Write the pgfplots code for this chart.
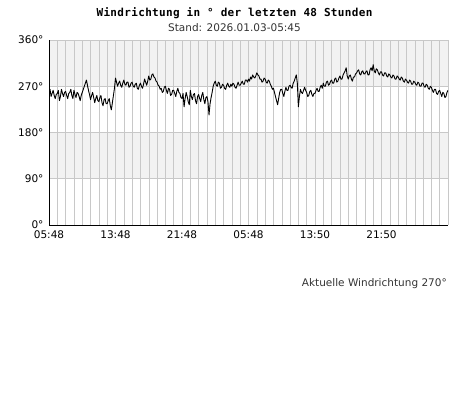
\documentclass[border=0pt]{standalone}
\usepackage{fontspec}
\setmainfont{DejaVu Sans}
\newfontfamily\titlefont[LetterSpace=3]{DejaVu Sans Mono}
\usepackage{pgfplots}
\pgfplotsset{compat=1.18}
\definecolor{band}{HTML}{F2F2F2}
\definecolor{gridc}{HTML}{C8C8C8}
\definecolor{txt}{HTML}{333333}

% wind direction (deg) over the last 48 hours, 8 readings per hour
\pgfplotstableread[row sep=\\]{
h deg\\
0 258\\ 0.125 264\\ 0.25 250\\ 0.375 256\\ 0.5 262\\ 0.625 252\\ 0.75 246\\ 0.875 254\\
1 256\\ 1.125 262\\ 1.25 242\\ 1.375 250\\ 1.5 264\\ 1.625 256\\ 1.75 250\\ 1.875 258\\
2 260\\ 2.125 252\\ 2.25 246\\ 2.375 256\\ 2.5 258\\ 2.625 264\\ 2.75 252\\ 2.875 246\\
3 262\\ 3.125 254\\ 3.25 248\\ 3.375 258\\ 3.5 256\\ 3.625 250\\ 3.75 242\\ 3.875 252\\
4 258\\ 4.125 264\\ 4.25 270\\ 4.375 276\\ 4.5 282\\ 4.625 272\\ 4.75 262\\ 4.875 254\\
5 244\\ 5.125 252\\ 5.25 258\\ 5.375 248\\ 5.5 238\\ 5.625 246\\ 5.75 252\\ 5.875 242\\
6 240\\ 6.125 248\\ 6.25 252\\ 6.375 238\\ 6.5 232\\ 6.625 244\\ 6.75 246\\ 6.875 236\\
7 236\\ 7.125 242\\ 7.25 246\\ 7.375 232\\ 7.5 224\\ 7.625 238\\ 7.75 252\\ 7.875 266\\
8 286\\ 8.125 278\\ 8.25 270\\ 8.375 276\\ 8.5 280\\ 8.625 272\\ 8.75 268\\ 8.875 276\\
9 282\\ 9.125 274\\ 9.25 272\\ 9.375 278\\ 9.5 278\\ 9.625 268\\ 9.75 270\\ 9.875 276\\
10 278\\ 10.125 270\\ 10.25 268\\ 10.375 274\\ 10.5 276\\ 10.625 266\\ 10.75 264\\ 10.875 272\\
11 276\\ 11.125 270\\ 11.25 266\\ 11.375 274\\ 11.5 284\\ 11.625 278\\ 11.75 272\\ 11.875 280\\
12 290\\ 12.125 282\\ 12.25 284\\ 12.375 292\\ 12.5 294\\ 12.625 288\\ 12.75 286\\ 12.875 280\\
13 278\\ 13.125 272\\ 13.25 270\\ 13.375 264\\ 13.5 266\\ 13.625 258\\ 13.75 260\\ 13.875 268\\
14 270\\ 14.125 262\\ 14.25 256\\ 14.375 266\\ 14.5 264\\ 14.625 252\\ 14.75 254\\ 14.875 262\\
15 262\\ 15.125 256\\ 15.25 250\\ 15.375 260\\ 15.5 266\\ 15.625 258\\ 15.75 256\\ 15.875 248\\
16 246\\ 16.125 256\\ 16.25 230\\ 16.375 246\\ 16.5 258\\ 16.625 250\\ 16.75 240\\ 16.875 234\\
17 262\\ 17.125 250\\ 17.25 244\\ 17.375 254\\ 17.5 256\\ 17.625 242\\ 17.75 236\\ 17.875 250\\
18 254\\ 18.125 246\\ 18.25 240\\ 18.375 252\\ 18.5 258\\ 18.625 244\\ 18.75 236\\ 18.875 248\\
19 250\\ 19.125 240\\ 19.25 214\\ 19.375 236\\ 19.5 248\\ 19.625 258\\ 19.75 270\\ 19.875 276\\
20 280\\ 20.125 272\\ 20.25 270\\ 20.375 278\\ 20.5 276\\ 20.625 266\\ 20.75 268\\ 20.875 274\\
21 272\\ 21.125 266\\ 21.25 264\\ 21.375 272\\ 21.5 276\\ 21.625 270\\ 21.75 268\\ 21.875 274\\
22 270\\ 22.125 276\\ 22.25 274\\ 22.375 268\\ 22.5 266\\ 22.625 272\\ 22.75 278\\ 22.875 272\\
23 272\\ 23.125 276\\ 23.25 280\\ 23.375 274\\ 23.5 274\\ 23.625 282\\ 23.75 282\\ 23.875 278\\
24 284\\ 24.125 280\\ 24.25 288\\ 24.375 284\\ 24.5 292\\ 24.625 288\\ 24.75 286\\ 24.875 290\\
25 296\\ 25.125 292\\ 25.25 290\\ 25.375 284\\ 25.5 284\\ 25.625 278\\ 25.75 280\\ 25.875 286\\
26 284\\ 26.125 278\\ 26.25 276\\ 26.375 282\\ 26.5 280\\ 26.625 274\\ 26.75 270\\ 26.875 264\\
27 266\\ 27.125 258\\ 27.25 250\\ 27.375 242\\ 27.5 234\\ 27.625 246\\ 27.75 258\\ 27.875 264\\
28 264\\ 28.125 256\\ 28.25 250\\ 28.375 260\\ 28.5 268\\ 28.625 262\\ 28.75 262\\ 28.875 270\\
29 272\\ 29.125 268\\ 29.25 266\\ 29.375 276\\ 29.5 280\\ 29.625 286\\ 29.75 292\\ 29.875 276\\
30 230\\ 30.125 250\\ 30.25 264\\ 30.375 258\\ 30.5 256\\ 30.625 262\\ 30.75 268\\ 30.875 262\\
31 258\\ 31.125 250\\ 31.25 252\\ 31.375 260\\ 31.5 262\\ 31.625 254\\ 31.75 250\\ 31.875 256\\
32 256\\ 32.125 262\\ 32.25 266\\ 32.375 260\\ 32.5 260\\ 32.625 268\\ 32.75 272\\ 32.875 266\\
33 276\\ 33.125 270\\ 33.25 270\\ 33.375 278\\ 33.5 280\\ 33.625 272\\ 33.75 274\\ 33.875 280\\
34 282\\ 34.125 276\\ 34.25 276\\ 34.375 284\\ 34.5 286\\ 34.625 278\\ 34.75 280\\ 34.875 286\\
35 290\\ 35.125 284\\ 35.25 284\\ 35.375 292\\ 35.5 296\\ 35.625 300\\ 35.75 306\\ 35.875 290\\
36 284\\ 36.125 290\\ 36.25 292\\ 36.375 284\\ 36.5 280\\ 36.625 288\\ 36.75 288\\ 36.875 294\\
37 296\\ 37.125 300\\ 37.25 302\\ 37.375 294\\ 37.5 292\\ 37.625 298\\ 37.75 300\\ 37.875 294\\
38 294\\ 38.125 298\\ 38.25 300\\ 38.375 292\\ 38.5 292\\ 38.625 302\\ 38.75 306\\ 38.875 300\\
39 312\\ 39.125 300\\ 39.25 296\\ 39.375 304\\ 39.5 302\\ 39.625 296\\ 39.75 292\\ 39.875 298\\
40 298\\ 40.125 292\\ 40.25 290\\ 40.375 296\\ 40.5 296\\ 40.625 290\\ 40.75 288\\ 40.875 294\\
41 292\\ 41.125 288\\ 41.25 286\\ 41.375 292\\ 41.5 290\\ 41.625 284\\ 41.75 284\\ 41.875 290\\
42 288\\ 42.125 284\\ 42.25 282\\ 42.375 288\\ 42.5 286\\ 42.625 280\\ 42.75 278\\ 42.875 284\\
43 282\\ 43.125 278\\ 43.25 276\\ 43.375 282\\ 43.5 280\\ 43.625 274\\ 43.75 274\\ 43.875 280\\
44 278\\ 44.125 274\\ 44.25 272\\ 44.375 278\\ 44.5 276\\ 44.625 270\\ 44.75 270\\ 44.875 276\\
45 276\\ 45.125 270\\ 45.25 268\\ 45.375 274\\ 45.5 272\\ 45.625 266\\ 45.75 264\\ 45.875 270\\
46 268\\ 46.125 262\\ 46.25 258\\ 46.375 264\\ 46.5 264\\ 46.625 256\\ 46.75 254\\ 46.875 260\\
47 262\\ 47.125 256\\ 47.25 250\\ 47.375 258\\ 47.5 256\\ 47.625 248\\ 47.75 250\\ 47.875 258\\
48 262\\
}\winddata

\pgfplotsset{windframe/.style={
    at={(49pt,190pt)}, anchor=south west,
    scale only axis,
    width=399pt, height=185pt,
    xmin=0, xmax=48, ymin=0, ymax=360,
}}

\begin{document}
\begin{tikzpicture}
\path[use as bounding box] (0,0) rectangle (468pt,415pt);
\node[font=\titlefont\bfseries\fontsize{11}{13}\selectfont] at (234.5pt,402pt) {Windrichtung in ° der letzten 48 Stunden};
\node[font=\fontsize{10.5}{12}\selectfont, text=txt] at (234.5pt,387pt) {Stand: 2026.01.03-05:45};
\node[font=\fontsize{10.5}{12}\selectfont, text=txt, anchor=east, inner sep=0pt] at (447pt,131pt) {Aktuelle Windrichtung 270°};
% background bands
\begin{axis}[windframe, hide axis]
\fill[band] (axis cs:0,270) rectangle (axis cs:48,360);
\fill[band] (axis cs:0,90) rectangle (axis cs:48,180);
\end{axis}
\begin{axis}[
    windframe,
    axis x line*=bottom, axis y line*=left,
    axis line style={black, line width=0.9pt, -},
    xtick={0,8,16,24,32,40},
    xticklabels={05:48,13:48,21:48,05:48,13:50,21:50},
    minor xtick={1,...,48},
    ytick={0,90,180,270,360},
    yticklabels={0°,90°,180°,270°,360°},
    xmajorgrids, xminorgrids, ymajorgrids,
    major grid style={gridc, line width=0.5pt},
    minor grid style={gridc, line width=0.5pt},
    tick style={draw=none},
    ticklabel style={font=\fontsize{10.5}{12}\selectfont},
    xticklabel style={yshift=-2pt},
    yticklabel style={xshift=-2pt},
]
\addplot[black, line width=0.9pt, line join=round, mark=none] table[x=h, y=deg] {\winddata};
\end{axis}
\end{tikzpicture}
\end{document}
